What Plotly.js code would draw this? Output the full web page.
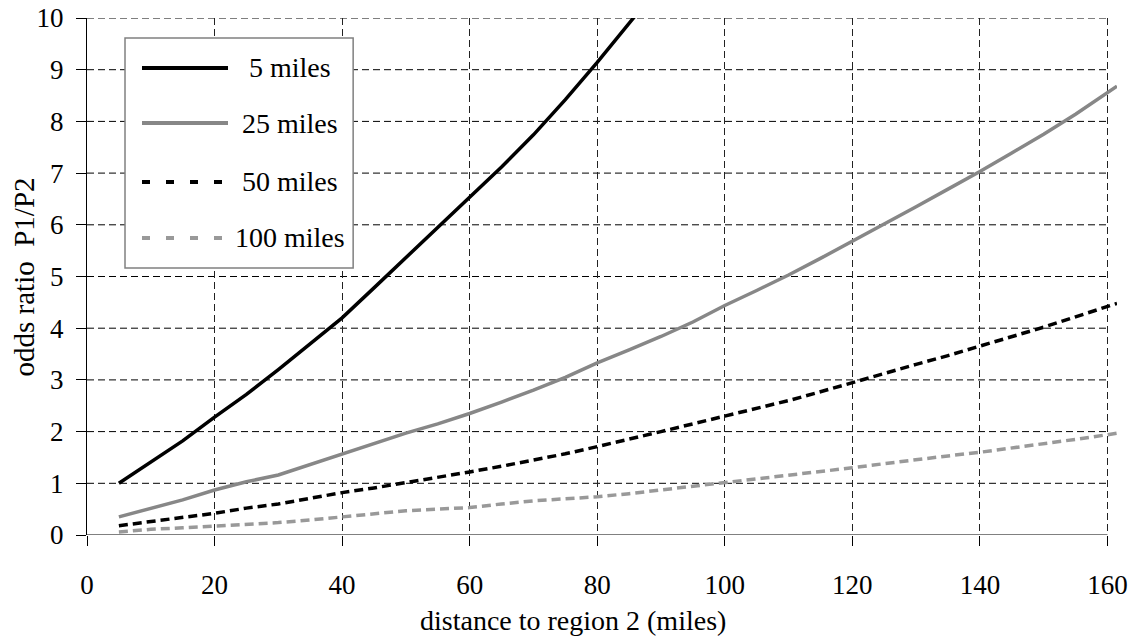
<!DOCTYPE html>
<html>
<head>
<meta charset="utf-8">
<script src="https://cdn.plot.ly/plotly-3.0.1.min.js"></script>
<style>html,body{margin:0;padding:0;background:#fff;}#chart{width:1136px;height:638px;}</style>
</head>
<body>
<div id="chart"></div>
<script>
// ---- data ----
const seriesNames = ["5 miles", "25 miles", "50 miles", "100 miles"];

const x5   = [5, 10, 15, 20, 25, 30, 35, 40, 45, 50, 55, 60, 65, 70, 75, 80, 85, 87];
const y5   = [1.0, 1.42, 1.82, 2.28, 2.72, 3.2, 3.7, 4.2, 4.78, 5.36, 5.95, 6.54, 7.12, 7.74, 8.42, 9.14, 9.9, 10.2];

const xAll = [5, 10, 15, 20, 25, 30, 35, 40, 45, 50, 55, 60, 65, 70, 75, 80, 85, 90, 95, 100,
              105, 110, 115, 120, 125, 130, 135, 140, 145, 150, 155, 160, 161.5];
const y25  = [0.35, 0.52, 0.68, 0.87, 1.03, 1.16, 1.36, 1.57, 1.77, 1.97, 2.15, 2.35, 2.57, 2.8, 3.05, 3.33, 3.58, 3.84, 4.12, 4.44,
              4.73, 5.03, 5.35, 5.68, 6.01, 6.35, 6.69, 7.03, 7.39, 7.75, 8.14, 8.55, 8.68];
const y50  = [0.18, 0.26, 0.34, 0.42, 0.52, 0.6, 0.71, 0.82, 0.91, 1.01, 1.11, 1.22, 1.33, 1.45, 1.57, 1.71, 1.85, 2.0, 2.15, 2.3,
              2.45, 2.6, 2.77, 2.95, 3.12, 3.3, 3.47, 3.65, 3.83, 4.02, 4.22, 4.42, 4.48];
const y100 = [0.06, 0.11, 0.14, 0.17, 0.21, 0.24, 0.29, 0.35, 0.41, 0.47, 0.5, 0.53, 0.6, 0.66, 0.7, 0.74, 0.8, 0.87, 0.94, 1.01,
              1.08, 1.15, 1.22, 1.3, 1.38, 1.46, 1.53, 1.6, 1.68, 1.77, 1.85, 1.94, 1.97];

const xTicks = [0, 20, 40, 60, 80, 100, 120, 140, 160];
const yTicks = [0, 1, 2, 3, 4, 5, 6, 7, 8, 9, 10];
const xTitle = "distance to region 2 (miles)";
const yTitle = "odds ratio\u00a0 P1/P2";

// ---- styles ----
const FONT = "Times New Roman, Liberation Serif, DejaVu Serif, serif";
const styles = [
  {color: "#000000", dash: "solid", legDash: "solid"},
  {color: "#878787", dash: "solid", legDash: "solid"},
  {color: "#000000", dash: "9px,5px", legDash: "8px,16px"},
  {color: "#999999", dash: "9px,5px", legDash: "8px,16px"}
];
const xs = [x5, xAll, xAll, xAll];
const ys = [y5, y25, y50, y100];

const traces = ys.map((y, i) => ({
  type: "scatter", mode: "lines", name: seriesNames[i],
  x: xs[i], y: y,
  line: {color: styles[i].color, width: 3.5, dash: styles[i].dash},
  showlegend: false, hoverinfo: "skip"
}));

const xMax = xTicks[xTicks.length - 1];
const shapes = [];
yTicks.slice(1).forEach(v => shapes.push({
  type: "line", xref: "x", yref: "y", x0: 0, x1: xMax, y0: v, y1: v,
  line: {color: "#000", width: 1, dash: "7px,4px"}, layer: "below"
}));
shapes.push({type: "line", xref: "x", yref: "y", x0: 0, x1: xMax, y0: 0, y1: 0,
  line: {color: "#000", width: 1}, layer: "above"});

const leg = {x0: 0.0369, x1: 0.2584, y0: 0.5164, y1: 0.9613,
             lx0: 0.0534, lx1: 0.1369, tx: 0.1972,
             rows: [0.9033, 0.7969, 0.6828, 0.5745]};
shapes.push({type: "rect", xref: "paper", yref: "paper",
  x0: leg.x0, x1: leg.x1, y0: leg.y0, y1: leg.y1,
  line: {color: "#808080", width: 1.5}, fillcolor: "#ffffff", layer: "above"});
const annotations = [];
seriesNames.forEach((n, i) => {
  shapes.push({type: "line", xref: "paper", yref: "paper",
    x0: leg.lx0, x1: leg.lx1, y0: leg.rows[i], y1: leg.rows[i],
    line: {color: styles[i].color, width: 4, dash: styles[i].legDash}, layer: "above"});
  annotations.push({xref: "paper", yref: "paper", x: leg.tx, y: leg.rows[i],
    xanchor: "center", yanchor: "middle", text: n, showarrow: false,
    font: {family: FONT, size: 28, color: "#000"}});
});
annotations.push({xref: "paper", yref: "paper", x: (573 - 87) / 1029.6, y: -0.165,
  xanchor: "center", yanchor: "middle", text: xTitle, showarrow: false,
  font: {family: FONT, size: 28, color: "#000"}});
annotations.push({xref: "paper", yref: "paper", x: (24 - 87) / 1029.6, y: 0.5,
  xanchor: "center", yanchor: "middle", text: yTitle, textangle: -90, showarrow: false,
  font: {family: FONT, size: 29, color: "#000"}});

const layout = {
  width: 1136, height: 638,
  margin: {l: 87, r: 19.4, t: 18, b: 103, pad: 0},
  paper_bgcolor: "#fff", plot_bgcolor: "#fff",
  font: {family: FONT, size: 27, color: "#000"},
  xaxis: {
    range: [0, 161.5], tickvals: xTicks, ticktext: xTicks.map(String),
    showgrid: true, gridcolor: "#222", gridwidth: 1, griddash: "7px,4px",
    zeroline: false, showline: false,
    ticks: "outside", ticklen: 10, tickcolor: "#000", tickwidth: 1,
    ticklabelstandoff: 16,
    tickfont: {family: FONT, size: 27, color: "#000"}
  },
  yaxis: {
    range: [0, 10], tickvals: yTicks, ticktext: yTicks.map(String),
    showgrid: false, zeroline: false,
    showline: true, linecolor: "#000", linewidth: 1,
    ticks: "outside", ticklen: 10, tickcolor: "#000", tickwidth: 1,
    ticklabelstandoff: 7,
    tickfont: {family: FONT, size: 27, color: "#000"}
  },
  shapes: shapes,
  annotations: annotations,
  showlegend: false
};

Plotly.newPlot("chart", traces, layout, {staticPlot: true, displayModeBar: false});
</script>
</body>
</html>
